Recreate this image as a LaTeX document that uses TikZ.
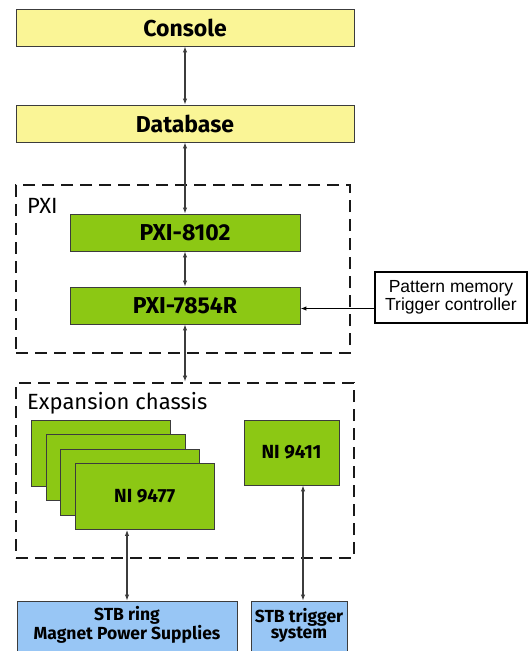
\documentclass[tikz,border=0pt]{standalone}
\usepackage{fontspec}
\setmainfont{Fira Sans}
\newfontfamily\arialfont{Liberation Sans}
\usetikzlibrary{arrows.meta,positioning}
\definecolor{hostbg}{RGB}{250,245,150}
\definecolor{modbg}{RGB}{140,200,20}
\definecolor{plantbg}{RGB}{152,198,245}
\definecolor{edge}{RGB}{60,60,60}
\tikzset{
  >={Latex[length=6pt,width=4.5pt]},
  block/.style={draw=edge, line width=0.9pt, align=center, inner sep=0pt},
  hostblock/.style={block, fill=hostbg, minimum width=338pt, minimum height=37pt,
    font=\bfseries\fontsize{23}{26}\selectfont},
  pxiblock/.style={block, fill=modbg, minimum width=230pt, minimum height=37pt,
    font=\bfseries\fontsize{23}{26}\selectfont},
  cardblock/.style={block, fill=modbg, minimum width=139pt, minimum height=66pt,
    font=\bfseries\fontsize{19}{22}\selectfont},
  plantblock/.style={block, fill=plantbg, minimum height=60pt},
  plantlbl/.style={align=center, inner sep=0pt,
    font=\bfseries\fontsize{17.5}{16}\selectfont},
  extblock/.style={draw=black, line width=1.8pt, fill=white, align=center,
    minimum width=152pt, minimum height=51pt, inner sep=0pt,
    font=\arialfont\fontsize{17.5}{17.5}\selectfont},
  % dashed chassis frames
  grp/.style={draw=black!90, line width=2.6pt, dash pattern=on 12pt off 7pt},
  grplbl/.style={anchor=west, inner sep=0pt, font=\fontsize{22}{24}\selectfont},
  link/.style={<->, edge, line width=1.1pt},
}
\begin{document}
\begin{tikzpicture}[x=1pt,y=-1pt]
\useasboundingbox (0,0) rectangle (529,651);

% ---------- host ----------
\node[hostblock] (console)  at (185,27.5)  {Console};
\node[hostblock] (database) at (185,123.5) {Database};

% ---------- PXI chassis ----------
\node[grp, minimum width=334pt, minimum height=168pt] (pxi) at (183,269) {};
\node[grplbl] (pxilbl) at (27,206) {PXI};
\node[pxiblock] (ctrl) at (185,232.5) {PXI-8102};
\node[pxiblock] (fpga) at (185,305.5) {PXI-7854R};

\node[extblock] (pattern) at (451,297.5) {Pattern memory\\Trigger controller};

% ---------- expansion chassis ----------
\node[grp, minimum width=338pt, minimum height=175pt] (exp) at (185,470.5) {};
\node[grplbl] (explbl) at (27,403) {Expansion chassis};

\foreach \k in {0,1,2}
  \node[cardblock] (card\k) at (101+14.6*\k,453+14.5*\k) {};
\node[cardblock] (card3) at (144.8,496.5) {NI 9477};
\node[cardblock, minimum width=95pt, minimum height=65pt] (trigin) at (291.5,452.5) {NI 9411};

% ---------- plant ----------
\node[plantblock, minimum width=220pt] (ring) at (127,631) {};
\node[plantlbl] (ringlbl) at (127,625) {STB ring\\Magnet Power Supplies};
\node[plantblock, minimum width=96pt] (trig) at (299,631) {};
\node[plantlbl] (triglbl) at (299,625) {STB trigger\\system};

% ---------- links ----------
\draw[link] (console) -- (database);
\draw[link] (database) -- (ctrl);
\draw[link] (ctrl) -- (fpga);
\draw[link] (fpga) -- (fpga |- exp.north);
\draw[->, black, line width=1.4pt] ([yshift=-3pt]fpga.east -| pattern.west) -- ([yshift=-3pt]fpga.east);
\draw[link] (ring.north |- card3.south) -- (ring.north);
\draw[link] ([xshift=4pt]trig.north |- trigin.south) -- ([xshift=4pt]trig.north);

\end{tikzpicture}
\end{document}
